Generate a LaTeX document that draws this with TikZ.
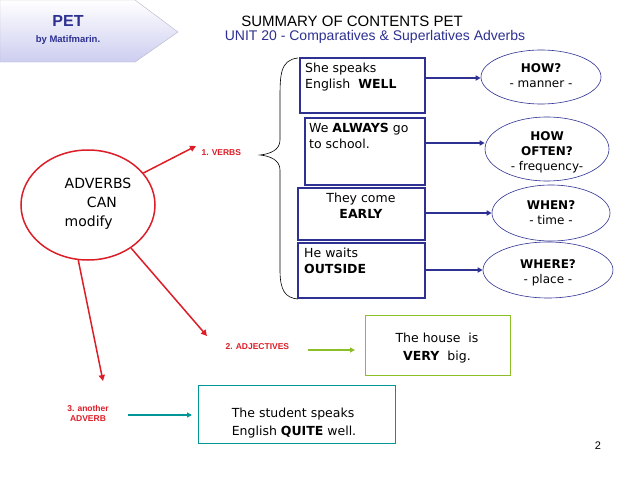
\documentclass[tikz,border=0pt]{standalone}
\usepackage{fontspec}
\setmainfont{Liberation Sans}
\newfontfamily\djfont{DejaVu Sans}
\usetikzlibrary{shapes.geometric,arrows.meta}
\definecolor{navy}{RGB}{46,49,146}
\definecolor{redc}{RGB}{220,30,40}
\definecolor{grn}{RGB}{140,190,40}
\definecolor{teal2}{RGB}{0,150,150}
\definecolor{lav}{RGB}{205,205,240}
\begin{document}
\begin{tikzpicture}[x=1pt,y=-1pt,
  bx/.style={draw=navy,line width=1.3pt,inner sep=0pt},
  bt/.style={font=\djfont\fontsize{12.5}{16}\selectfont,align=left,anchor=north west,inner sep=0pt},
  el/.style={draw=navy,ellipse,line width=0.6pt},
  et/.style={font=\djfont\fontsize{12}{15}\selectfont,align=center},
  barr/.style={navy,line width=1.5pt,-{Triangle[length=5pt,width=5pt]}},
  rarr/.style={redc,line width=1.5pt,-{Triangle[length=6pt,width=6pt]}},
  lbl/.style={font=\bfseries\fontsize{8.5}{10}\selectfont,text=redc}]
\useasboundingbox (0,0) rectangle (638,479);
\fill[white] (0,0) rectangle (638,479);
% banner
\shade[top color=white,bottom color=lav,draw=lav!70!gray] (0,0) -- (135,0) -- (178,32) -- (135,62) -- (0,62) -- cycle;
\node[font=\bfseries\fontsize{16}{18}\selectfont,text=navy] (pet) at (68,21) {PET};
\node[font=\bfseries\fontsize{9.5}{11}\selectfont,text=navy] (by) at (68,40) {by Matifmarin.};
\node[font=\fontsize{15}{17}\selectfont] (title) at (352,21) {SUMMARY OF CONTENTS PET};
\node[font=\fontsize{14}{16}\selectfont,text=navy] (unit) at (375,37) {UNIT 20 - Comparatives \& Superlatives Adverbs};
% brace
\draw[line width=0.6pt] (298,58) .. controls (280,60) and (280,75) .. (280,100) -- (280,140) .. controls (280,150) and (270,154) .. (260,155)
  .. controls (270,156) and (280,160) .. (280,170) -- (280,270) .. controls (280,290) and (285,298) .. (298,299);
% boxes
\draw[bx] (300,58) rectangle (425,113);
\node[bt] (t1) at (305,63) {She speaks\\English\ \ \textbf{WELL}};
\draw[bx] (305,118) rectangle (425,185);
\node[bt] (t2) at (309,123) {We \textbf{ALWAYS} go\\to school.};
\draw[bx] (298,188) rectangle (425,240);
\node[bt,anchor=north,align=center] (t3) at (361,193) {They come\\\textbf{EARLY}};
\draw[bx] (298,243) rectangle (425,298);
\node[bt] (t4) at (304,248) {He waits\\\textbf{OUTSIDE}};
\coordinate (s1) at (425,78); \coordinate (s2) at (425,143); \coordinate (s3) at (425,213); \coordinate (s4) at (425,270);
% ellipses
\node[el,minimum width=120pt,minimum height=54pt] (e1) at (541,77) {};
\node[et] at (541,76) {\textbf{HOW?}\\- manner -};
\node[el,minimum width=124pt,minimum height=64pt] (e2) at (547,149) {};
\node[et] at (547,152) {\textbf{HOW}\\\textbf{OFTEN?}\\- frequency-};
\node[el,minimum width=118pt,minimum height=56pt] (e3) at (551,213) {};
\node[et] at (551,213) {\textbf{WHEN?}\\- time -};
\node[el,minimum width=130pt,minimum height=56pt] (e4) at (548,270) {};
\node[et] at (548,273) {\textbf{WHERE?}\\- place -};
\draw[barr] (s1) -- (e1.west |- s1);
\draw[barr] (s2) -- (e2.west |- s2);
\draw[barr] (s3) -- (e3.west |- s3);
\draw[barr] (s4) -- (e4.west |- s4);
% adverbs
\node[draw=redc,line width=1.5pt,ellipse,minimum width=134pt,minimum height=110pt] (adv) at (88,205) {};
\node[font=\djfont\fontsize{14}{19}\selectfont,align=left] (advt) at (98,204) {ADVERBS\\\ \ \ \ \ CAN\\modify};
\node[lbl,anchor=west] (v) at (198,153) {1. VERBS};
\node[lbl,anchor=west] (adj) at (222,347) {2. ADJECTIVES};
\node[lbl,align=center] (an) at (88,413) {3. another\\ADVERB};
\draw[rarr] (adv.30) -- (196,146);
\draw[rarr] (adv.-45) -- (207,336);
\draw[rarr] (adv.-100) -- (103,381);
% bottom boxes
\draw[draw=grn,line width=0.8pt] (365,315) rectangle (510,375);
\node[font=\djfont\fontsize{12.5}{18}\selectfont,align=center] (house) at (437,348) {The house\ \ is\\\textbf{VERY}\ \ big.};
\draw[grn,line width=1.5pt,-{Triangle[length=5pt,width=5pt]}] (308,350) -- (355,350);
\draw[draw=teal2,line width=0.8pt] (198,385) rectangle (395,443);
\node[font=\djfont\fontsize{12.5}{18}\selectfont,align=left] (stud) at (294,423) {The student speaks\\English \textbf{QUITE} well.};
\draw[teal2,line width=1.5pt,-{Triangle[length=5pt,width=5pt]}] (128,415) -- (192,415);
\node[font=\fontsize{11}{13}\selectfont] (pg) at (598,446) {2};
\end{tikzpicture}
\end{document}
